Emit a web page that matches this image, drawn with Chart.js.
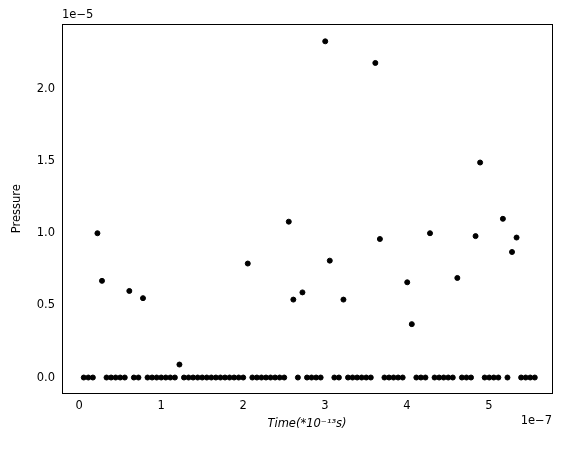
<!DOCTYPE html>
<html><head><script src="https://cdn.jsdelivr.net/npm/chart.js@4/dist/chart.umd.min.js"></script>
<style>body{margin:0;background:#fff}#w{width:567px;height:453px}</style></head>
<body><div id="w"><canvas id="c"></canvas></div>
<script>
const xStep = 0.0556; // x in units of 1e-7
const nPoints = 100;
const nonZeroIdx = [4,5,11,14,22,37,46,47,49,54,55,58,65,66,72,73,77,83,87,88,93,95,96];
const nonZeroVal = [1.00,0.67,0.60,0.55,0.09,0.79,1.08,0.54,0.59,2.33,0.81,0.54,2.18,0.96,0.66,0.37,1.00,0.69,0.98,1.49,1.10,0.87,0.97]; // units of 1e-5
const xTicks = [0,1,2,3,4,5];
const yTicks = [0.0,0.5,1.0,1.5,2.0];
const pts = [];
for (let i = 1; i <= nPoints; i++) {
  const k = nonZeroIdx.indexOf(i);
  pts.push({x: i*xStep, y: k >= 0 ? nonZeroVal[k] : 0});
}
const font = {family:'DejaVu Sans', size:11.5};
const offsetText = {id:'off', afterDraw(ch){
  const c = ch.ctx, a = ch.chartArea;
  c.save(); c.strokeStyle='#000'; c.lineWidth=1;
  c.strokeRect(Math.round(a.left)+0.5, Math.round(a.top)+0.5, Math.round(a.right-a.left), Math.round(a.bottom-a.top));
  c.fillStyle='#000'; c.font='11.5px DejaVu Sans';
  c.textAlign='left'; c.textBaseline='bottom'; c.fillText('1e\u22125', a.left, a.top-3);
  c.textAlign='right'; c.textBaseline='top'; c.fillText('1e\u22127', a.right, a.bottom+22);
  c.restore();
}};
new Chart(document.getElementById('c'), {
  type:'scatter',
  data:{datasets:[{data:pts, backgroundColor:'#000', borderColor:'#000', pointRadius:2.5, pointHoverRadius:2.5}]},
  options:{
    responsive:true, maintainAspectRatio:false, animation:false,
    layout:{padding:{left:6,right:15,top:24,bottom:18}},
    plugins:{legend:{display:false}, tooltip:{enabled:false}},
    scales:{
      x:{type:'linear', min:-0.21, max:5.77, afterBuildTicks(s){s.ticks=xTicks.map(v=>({value:v}));},
        grid:{display:false, drawTicks:true, tickLength:4, tickColor:'#000'}, border:{color:'#000'},
        ticks:{color:'#000', font, callback:v=>String(v), padding:2},
        title:{display:true, text:'Time(*10\u207B\u00B9\u00B3s)', color:'#000', font:{family:'DejaVu Sans', size:11.5, style:'italic'}, padding:{top:2}}},
      y:{type:'linear', min:-0.11, max:2.45, afterBuildTicks(s){s.ticks=yTicks.map(v=>({value:v}));},
        afterFit(s){s.width=56;},
        grid:{display:false, drawTicks:true, tickLength:4, tickColor:'#000'}, border:{color:'#000'},
        ticks:{color:'#000', font, callback:v=>v.toFixed(1)},
        title:{display:true, text:'Pressure', color:'#000', font, padding:{bottom:4}}}
    }
  },
  plugins:[offsetText]
});
</script></body></html>
